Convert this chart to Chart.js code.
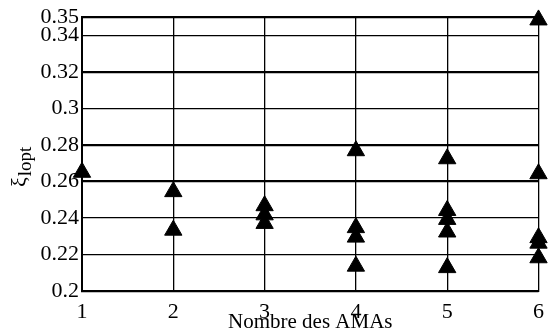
<!DOCTYPE html>
<html>
<head>
<meta charset="utf-8">
<script src="https://cdn.jsdelivr.net/npm/chart.js@4/dist/chart.umd.min.js"></script>
<style>
  html, body { margin: 0; padding: 0; background: #fff; }
  #wrap { width: 552px; height: 333px; }
</style>
</head>
<body>
<div id="wrap"><canvas id="chart"></canvas></div>
<script>
// number of AMAs (x) and optimal xi_lopt (y)
const nbAMAs = [1, 2, 2, 3, 3, 3, 4, 4, 4, 4, 5, 5, 5, 5, 5, 6, 6, 6, 6, 6];
const xiLopt = [
  0.265,
  0.2544, 0.2333,
  0.2467, 0.2417, 0.237,
  0.2768, 0.2347, 0.2295, 0.2136,
  0.2724, 0.2441, 0.2392, 0.2323, 0.2128,
  0.3484, 0.2642, 0.2292, 0.2262, 0.2182,
];
const xTicks = [1, 2, 3, 4, 5, 6];
const yTicks = [0.2, 0.22, 0.24, 0.26, 0.28, 0.3, 0.32, 0.34, 0.35];
const thickYLines = [0.2, 0.26, 0.28, 0.32, 0.35];

const SERIF = '"Liberation Serif", "DejaVu Serif", serif';

const axisTitles = {
  id: 'axisTitles',
  afterDraw(chart) {
    const { ctx, chartArea } = chart;
    ctx.save();
    ctx.fillStyle = '#000';
    ctx.textBaseline = 'alphabetic';

    // x title
    ctx.font = '21px ' + SERIF;
    ctx.textAlign = 'center';
    ctx.fillText('Nombre des AMAs', (chartArea.left + chartArea.right) / 2, 328);

    // y title, rotated, with subscript
    ctx.translate(26, 187);
    ctx.rotate(-Math.PI / 2);
    ctx.textAlign = 'left';
    ctx.font = '22px ' + SERIF;
    const w1 = ctx.measureText('ξ').width;
    ctx.fillText('ξ', 0, 0);
    ctx.font = '19px ' + SERIF;
    ctx.fillText('lopt', w1 + 1, 5);
    ctx.restore();
  },
};

new Chart(document.getElementById('chart'), {
  type: 'scatter',
  data: {
    datasets: [{
      data: nbAMAs.map((x, i) => ({ x, y: xiLopt[i] })),
      pointStyle: 'triangle',
      pointRadius: 10,
      pointHoverRadius: 10,
      backgroundColor: '#000',
      borderColor: '#000',
      borderWidth: 1,
      clip: false,
    }],
  },
  options: {
    responsive: true,
    maintainAspectRatio: false,
    animation: false,
    layout: { padding: { top: 17, right: 6, left: 0, bottom: 0 } },
    plugins: {
      legend: { display: false },
      tooltip: { enabled: false },
    },
    scales: {
      x: {
        type: 'linear',
        min: 1,
        max: 6,
        afterBuildTicks: (scale) => { scale.ticks = xTicks.map((v) => ({ value: v })); },
        afterFit: (scale) => { scale.height = 42; },
        grid: { color: '#000', lineWidth: 1.3, drawTicks: false },
        border: { color: '#000', width: 2 },
        ticks: {
          color: '#000',
          padding: 8,
          font: { family: SERIF, size: 22 },
          maxRotation: 0,
        },
      },
      y: {
        type: 'linear',
        min: 0.2,
        max: 0.35,
        afterBuildTicks: (scale) => { scale.ticks = yTicks.map((v) => ({ value: v })); },
        afterFit: (scale) => { scale.width = 82; },
        grid: {
          color: '#000',
          drawTicks: false,
          lineWidth: (c) => (thickYLines.some((t) => Math.abs(t - c.tick.value) < 1e-6) ? 2.2 : 1.3),
        },
        border: { color: '#000', width: 2 },
        ticks: {
          color: '#000',
          padding: 3,
          font: { family: SERIF, size: 22 },
          callback: (v) => String(Math.round(v * 100) / 100),
        },
      },
    },
  },
  plugins: [axisTitles],
});
</script>
</body>
</html>
